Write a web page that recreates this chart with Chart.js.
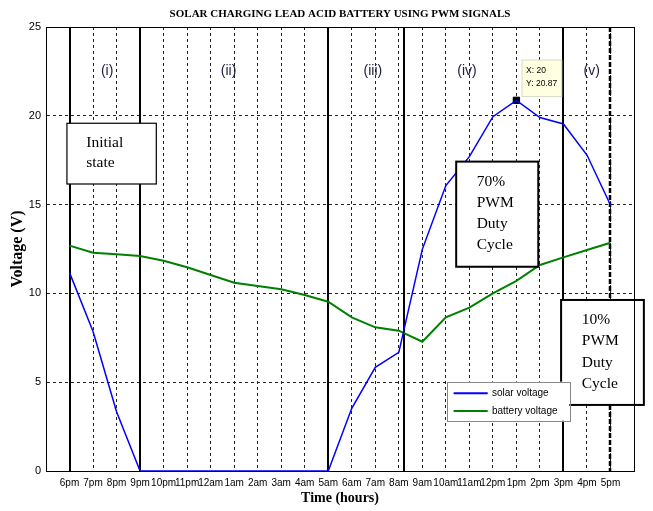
<!DOCTYPE html>
<html>
<head>
<meta charset="utf-8">
<script src="https://cdn.jsdelivr.net/npm/chart.js@4.4.1/dist/chart.umd.min.js"></script>
<style>
html, body { margin: 0; padding: 0; background: #fff; }
#wrap { width: 653px; height: 511px; position: relative; }
</style>
</head>
<body>
<div id="wrap"><canvas id="voltChart"></canvas></div>
<script>
// hours on the x axis, tick 1 = 6pm ... tick 24 = 5pm
const HOURS = ["6pm","7pm","8pm","9pm","10pm","11pm","12am","1am","2am","3am","4am","5am",
               "6am","7am","8am","9am","10am","11am","12pm","1pm","2pm","3pm","4pm","5pm"];
const SOLAR = [11.17, 7.85, 3.34, 0, 0, 0, 0, 0, 0, 0, 0, 0,
               3.53, 5.84, 6.68, 12.48, 16.07, 17.7, 19.95, 20.87, 19.9, 19.54, 17.79, 14.98];
const BATTERY = [12.69, 12.29, 12.2, 12.1, 11.84, 11.47, 11.04, 10.6, 10.42, 10.23, 9.91, 9.53,
                 8.65, 8.09, 7.9, 7.28, 8.65, 9.2, 10.0, 10.71, 11.6, 12.03, 12.44, 12.85];
const Y_TICKS = [0, 5, 10, 15, 20, 25];
const PEAK = 20; // data tip at 1pm
const TITLE = "SOLAR CHARGING LEAD ACID BATTERY USING PWM SIGNALS";

// stage boundaries and stage names
const STAGE_LINES = [1, 4, 12, 15.2, 22];
const END_LINE = 24;
const STAGES = ["(i)", "(ii)", "(iii)", "(iv)", "(v)"];
const STAGE_X = [2.6, 7.76, 13.9, 17.9, 23.2];
const STAGE_Y = 22.5;

// text boxes, in axis units
const NOTES = [
    { x0: 0.89, x1: 4.69, y0: 19.58, y1: 16.16, tx: 1.71, ty: [18.47, 17.36], lines: ["Initial", "state"], lw: 1.2 },
    { x0: 17.44, x1: 20.93, y0: 17.42, y1: 11.5, tx: 18.31, ty: [16.27, 15.1, 13.9, 12.73], lines: ["70%", "PWM", "Duty", "Cycle"], lw: 2 },
    { x0: 21.9, x1: 25.42, y0: 9.63, y1: 3.72, tx: 22.78, ty: [8.5, 7.34, 6.06, 4.9], lines: ["10%", "PWM", "Duty", "Cycle"], lw: 2 }
];

const points = arr => arr.map((v, i) => ({ x: i + 1, y: v }));

const overlay = {
    id: "overlay",
    beforeDatasetsDraw(chart) {
        const { ctx, chartArea: a, scales: { x } } = chart;
        ctx.save();
        ctx.strokeStyle = "#000";
        ctx.lineWidth = 2;
        STAGE_LINES.forEach(v => {
            const px = Math.round(x.getPixelForValue(v));
            ctx.beginPath();
            ctx.moveTo(px, a.top);
            ctx.lineTo(px, a.bottom);
            ctx.stroke();
        });
        ctx.lineWidth = 2.5;
        ctx.setLineDash([5, 2]);
        const ex = Math.round(x.getPixelForValue(END_LINE));
        ctx.beginPath();
        ctx.moveTo(ex, a.top);
        ctx.lineTo(ex, a.bottom);
        ctx.stroke();
        ctx.restore();
    },
    afterDatasetsDraw(chart) {
        const { ctx, scales: { x, y } } = chart;
        const px = v => x.getPixelForValue(v);
        const py = v => y.getPixelForValue(v);
        ctx.save();

        // stage names
        ctx.font = "14px 'Liberation Sans', Arial, sans-serif";
        ctx.fillStyle = "#1c1c3c";
        ctx.textAlign = "center";
        ctx.textBaseline = "middle";
        STAGES.forEach((s, i) => ctx.fillText(s, px(STAGE_X[i]), py(STAGE_Y)));

        // text boxes
        NOTES.forEach(n => {
            const bx = px(n.x0), by = py(n.y0);
            const bw = px(n.x1) - bx, bh = py(n.y1) - by;
            ctx.fillStyle = "#fff";
            ctx.fillRect(bx, by, bw, bh);
            ctx.lineWidth = n.lw;
            ctx.strokeStyle = "#000";
            ctx.strokeRect(bx, by, bw, bh);
            ctx.fillStyle = "#000";
            ctx.font = "15.5px 'Liberation Serif', 'Times New Roman', serif";
            ctx.textAlign = "left";
            n.lines.forEach((t, i) => ctx.fillText(t, px(n.tx), py(n.ty[i])));
        });

        // legend
        const lx0 = px(17.04), ly0 = py(5.03);
        ctx.fillStyle = "#fff";
        ctx.fillRect(lx0, ly0, px(22.25) - lx0, py(2.83) - ly0);
        ctx.lineWidth = 1;
        ctx.strokeStyle = "#888";
        ctx.strokeRect(Math.round(lx0) + 0.5, Math.round(ly0) + 0.5, Math.round(px(22.25) - lx0), Math.round(py(2.83) - ly0));
        ctx.font = "10px 'Liberation Sans', Arial, sans-serif";
        ctx.textAlign = "left";
        [4.375, 3.38].forEach((row, i) => {
            const ds = chart.data.datasets[i];
            ctx.strokeStyle = ds.borderColor;
            ctx.lineWidth = 2;
            ctx.beginPath();
            ctx.moveTo(px(17.33), py(row));
            ctx.lineTo(px(18.78), py(row));
            ctx.stroke();
            ctx.fillStyle = "#000";
            ctx.fillText(ds.label, px(18.96), py(row));
        });

        // data tip
        const tx0 = px(20.24), ty0 = py(23.14);
        ctx.fillStyle = "#ffffe1";
        ctx.fillRect(tx0, ty0, px(21.93) - tx0, py(21.08) - ty0);
        ctx.strokeStyle = "#d8d8c8";
        ctx.lineWidth = 1;
        ctx.strokeRect(tx0, ty0, px(21.93) - tx0, py(21.08) - ty0);
        ctx.fillStyle = "#000";
        ctx.font = "8.5px 'Liberation Sans', Arial, sans-serif";
        ctx.fillText("X: " + PEAK, px(20.41), py(22.52));
        ctx.fillText("Y: " + SOLAR[PEAK - 1].toFixed(2), px(20.41), py(21.79));
        ctx.restore();
    },
    afterDraw(chart) {
        const { ctx, chartArea: a } = chart;
        ctx.save();
        ctx.strokeStyle = "#000";
        ctx.lineWidth = 1;
        ctx.strokeRect(Math.round(a.left) + 0.5, Math.round(a.top) + 0.5,
                       Math.round(a.right - a.left), Math.round(a.bottom - a.top));
        // title centred over the plot box
        ctx.fillStyle = "#000";
        ctx.font = "bold 11px 'Liberation Serif', 'Times New Roman', serif";
        ctx.textAlign = "center";
        ctx.textBaseline = "middle";
        ctx.fillText(TITLE, (a.left + a.right) / 2, 14);
        ctx.restore();
    }
};

new Chart(document.getElementById("voltChart"), {
    type: "line",
    data: {
        datasets: [
            { label: "solar voltage", data: points(SOLAR), borderColor: "#0000ff", borderWidth: 1.5, pointRadius: 0, tension: 0 },
            { label: "battery voltage", data: points(BATTERY), borderColor: "#008000", borderWidth: 2, pointRadius: 0, tension: 0 },
            { label: "peak", data: [{ x: PEAK, y: SOLAR[PEAK - 1] }], showLine: false, pointStyle: "rect",
              pointRadius: 4.5, backgroundColor: "#000", borderColor: "#000" }
        ]
    },
    options: {
        responsive: true,
        maintainAspectRatio: false,
        devicePixelRatio: 1,
        animation: false,
        layout: { padding: { top: 27, right: 19, bottom: 0, left: 0 } },
        plugins: {
            legend: { display: false },
            tooltip: { enabled: false },
            title: { display: false }
        },
        scales: {
            x: {
                type: "linear",
                min: 0,
                max: 25,
                afterBuildTicks: s => { s.ticks = HOURS.map((h, i) => ({ value: i + 1 })); },
                afterFit: s => { s.height = 40; },
                ticks: {
                    autoSkip: false,
                    maxRotation: 0,
                    padding: 6,
                    color: "#000",
                    font: { family: "'Liberation Sans Narrow', 'Liberation Sans', Arial, sans-serif", size: 10 },
                    callback: v => HOURS[v - 1]
                },
                grid: { color: "#222", drawTicks: false },
                border: { display: true, color: "#000", dash: [3, 3] },
                title: {
                    display: true,
                    text: "Time (hours)",
                    color: "#000",
                    font: { family: "'Liberation Serif', 'Times New Roman', serif", size: 14, weight: "bold" },
                    padding: { top: 0, bottom: 4.6 }
                }
            },
            y: {
                type: "linear",
                min: 0,
                max: 25,
                afterBuildTicks: s => { s.ticks = Y_TICKS.map(v => ({ value: v })); },
                afterFit: s => { s.width = 46; },
                ticks: {
                    padding: 5,
                    color: "#000",
                    font: { family: "'Liberation Sans', Arial, sans-serif", size: 11 }
                },
                grid: { color: "#222", drawTicks: false },
                border: { display: true, color: "#000", dash: [3, 3] },
                title: {
                    display: true,
                    text: "Voltage (V)",
                    color: "#000",
                    font: { family: "'Liberation Serif', 'Times New Roman', serif", size: 16, weight: "bold" },
                    padding: { top: 8.4, bottom: 0 }
                }
            }
        }
    },
    plugins: [overlay]
});
</script>
</body>
</html>
